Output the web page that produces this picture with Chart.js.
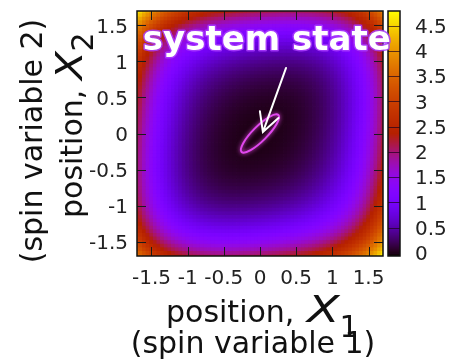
<!DOCTYPE html>
<html>
<head>
<meta charset="utf-8">
<script src="https://cdn.jsdelivr.net/npm/chart.js@4.4.0/dist/chart.umd.min.js"></script>
<style>
  html, body { margin: 0; padding: 0; background: #fff; }
  #wrap { width: 451px; height: 360px; }
</style>
</head>
<body>
<div id="wrap"><canvas id="c" width="451" height="360"></canvas></div>
<script>
// landscape height along x1 (at x2 = 0), x1 = -1.7 .. 1.7 step 0.05
const profileX1 = [2.139, 1.933, 1.743, 1.568, 1.406, 1.258, 1.123, 0.999, 0.886, 0.783,
  0.690, 0.606, 0.530, 0.461, 0.400, 0.345, 0.296, 0.253, 0.215, 0.181, 0.151, 0.126,
  0.103, 0.083, 0.066, 0.052, 0.040, 0.030, 0.021, 0.014, 0.009, 0.005, 0.002, 0.001,
  0.000,
  0.001, 0.002, 0.005, 0.009, 0.014, 0.021, 0.030, 0.040, 0.052, 0.066, 0.083, 0.103,
  0.126, 0.151, 0.181, 0.215, 0.253, 0.296, 0.345, 0.400, 0.461, 0.530, 0.606, 0.690,
  0.783, 0.886, 0.999, 1.123, 1.258, 1.406, 1.568, 1.743, 1.933, 2.139];
// same along x2 (at x1 = 0)
const profileX2 = profileX1;
// x1*x2 coupling (opposite-sign corners are higher)
const coupling = 0.17;
const gridStart = -1.7;
const gridStep = 0.05;

const xTicks = [-1.5, -1, -0.5, 0, 0.5, 1, 1.5];
const yTicks = [-1.5, -1, -0.5, 0, 0.5, 1, 1.5];
const cbTicks = [0, 0.5, 1, 1.5, 2, 2.5, 3, 3.5, 4, 4.5];
const cbMin = -0.06;
const cbMax = 4.79;

// annotation
const stateEllipse = { x: 0, y: 0, a: 0.36, b: 0.1, angle: 45 };
const arrowFrom = [0.36, 0.91];
const arrowTo = [0.04, 0.02];
const labelText = "system state";
const labelAt = [-1.62, 1.16];

// gnuplot default palette (rgbformulae 7,5,15)
function palette(v) {
  let t = (v - cbMin) / (cbMax - cbMin);
  t = Math.min(1, Math.max(0, t));
  const r = Math.sqrt(t), g = t * t * t, b = Math.max(0, Math.sin(2 * Math.PI * t));
  return `rgb(${Math.round(r * 255)},${Math.round(g * 255)},${Math.round(b * 255)})`;
}

const cells = [];
profileX1.forEach((p1, i) => {
  const x1 = +(gridStart + i * gridStep).toFixed(2);
  profileX2.forEach((p2, j) => {
    const x2 = +(gridStart + j * gridStep).toFixed(2);
    cells.push({ x: x1, y: x2, v: p1 + p2 - coupling * x1 * x2 });
  });
});
const cellColors = cells.map(c => palette(c.v));

function cellRadius(chart) {
  const s = chart.scales.x;
  if (!s) return 2.6;
  const px = Math.abs(s.getPixelForValue(gridStep) - s.getPixelForValue(0));
  return (px + 0.8) / Math.SQRT2;
}

const FONT = '"DejaVu Sans", sans-serif';
const tickFont = { family: FONT, size: 20 };

function drawRun(ctx, parts) {
  // parts: [text, font, dx, dy, sx]; drawn left to right along local x
  let x = 0;
  parts.forEach(([t, f, dx, dy, sx = 1]) => {
    ctx.font = f;
    ctx.save();
    ctx.translate(x + dx, dy);
    ctx.scale(sx, 1);
    ctx.fillText(t, 0, 0);
    ctx.restore();
    x += dx + ctx.measureText(t).width * sx;
  });
}

const decor = {
  id: 'decor',
  afterDatasetsDraw(chart) {
    const { ctx, chartArea: a, scales } = chart;
    const { x, y, cb } = scales;
    ctx.save();

    // colour box
    const bl = a.right + 5, bw = 12;
    for (let py = Math.floor(a.top); py < a.bottom; py++) {
      ctx.fillStyle = palette(cb.getValueForPixel(py + 0.5));
      ctx.fillRect(bl, py, bw, 1);
    }
    ctx.strokeStyle = 'rgba(30,0,30,0.7)';
    ctx.lineWidth = 1;
    ctx.beginPath();
    cbTicks.forEach(v => {
      const py = Math.round(cb.getPixelForValue(v)) + 0.5;
      ctx.moveTo(bl, py); ctx.lineTo(bl + bw, py);
    });
    ctx.stroke();
    ctx.strokeStyle = '#111';
    ctx.lineWidth = 1.5;
    ctx.strokeRect(bl, a.top, bw, a.bottom - a.top);

    // inward, mirrored tics
    ctx.strokeStyle = '#1a1a1a';
    ctx.lineWidth = 1;
    ctx.beginPath();
    xTicks.forEach(v => {
      const px = Math.round(x.getPixelForValue(v)) + 0.5;
      ctx.moveTo(px, a.bottom); ctx.lineTo(px, a.bottom - 9);
      ctx.moveTo(px, a.top); ctx.lineTo(px, a.top + 9);
    });
    yTicks.forEach(v => {
      const py = Math.round(y.getPixelForValue(v)) + 0.5;
      ctx.moveTo(a.left, py); ctx.lineTo(a.left + 9, py);
      ctx.moveTo(a.right, py); ctx.lineTo(a.right - 9, py);
    });
    ctx.stroke();
    ctx.strokeStyle = '#111';
    ctx.lineWidth = 1.5;
    ctx.strokeRect(a.left, a.top, a.right - a.left, a.bottom - a.top);

    // state ellipse
    const cx = x.getPixelForValue(stateEllipse.x), cy = y.getPixelForValue(stateEllipse.y);
    const ux = Math.abs(x.getPixelForValue(1) - x.getPixelForValue(0));
    ctx.save();
    ctx.shadowColor = 'rgba(255,80,255,0.9)';
    ctx.shadowBlur = 4;
    ctx.strokeStyle = '#e048ee';
    ctx.lineWidth = 2;
    ctx.beginPath();
    ctx.ellipse(cx, cy, stateEllipse.a * ux, stateEllipse.b * ux, -stateEllipse.angle * Math.PI / 180, 0, 2 * Math.PI);
    ctx.stroke();
    ctx.restore();

    // arrow
    const x0 = x.getPixelForValue(arrowFrom[0]), y0 = y.getPixelForValue(arrowFrom[1]);
    const x1 = x.getPixelForValue(arrowTo[0]), y1 = y.getPixelForValue(arrowTo[1]);
    const ang = Math.atan2(y0 - y1, x0 - x1), hl = 21, ha = 28 * Math.PI / 180;
    ctx.strokeStyle = '#fff';
    ctx.lineWidth = 2;
    ctx.lineCap = 'round';
    ctx.beginPath();
    ctx.moveTo(x0, y0); ctx.lineTo(x1, y1);
    ctx.moveTo(x1 + hl * Math.cos(ang - ha), y1 + hl * Math.sin(ang - ha));
    ctx.lineTo(x1, y1);
    ctx.lineTo(x1 + hl * Math.cos(ang + ha), y1 + hl * Math.sin(ang + ha));
    ctx.stroke();

    // label
    const lx = x.getPixelForValue(labelAt[0]), ly = y.getPixelForValue(labelAt[1]);
    ctx.font = 'bold 34px ' + FONT;
    ctx.textBaseline = 'alphabetic';
    ctx.textAlign = 'left';
    ctx.lineJoin = 'round';
    ctx.strokeStyle = 'rgba(170,60,255,0.85)';
    ctx.lineWidth = 3;
    ctx.strokeText(labelText, lx, ly);
    ctx.fillStyle = '#fff';
    ctx.fillText(labelText, lx, ly);
    ctx.restore();
  },
  afterDraw(chart) {
    const { ctx } = chart;
    ctx.save();
    ctx.fillStyle = '#111';
    ctx.textBaseline = 'alphabetic';
    ctx.textAlign = 'left';
    const reg = '30px ' + FONT, ital = 'italic 38px ' + FONT;

    // x title
    ctx.save();
    ctx.translate(166, 322);
    drawRun(ctx, [['position, ', reg, 0, 0], ['X', ital, 3, 0, 1.25], ['1', reg, 0, 15]]);
    ctx.restore();
    ctx.font = reg;
    ctx.textAlign = 'center';
    ctx.fillText('(spin variable 1)', 253, 353);

    // y title
    ctx.save();
    ctx.translate(82, 218);
    ctx.rotate(-Math.PI / 2);
    ctx.textAlign = 'left';
    drawRun(ctx, [['position, ', reg, 0, 0], ['X', ital, 0, 0, 1.1], ['2', reg, 0, 11]]);
    ctx.restore();
    ctx.save();
    ctx.translate(42, 141);
    ctx.rotate(-Math.PI / 2);
    ctx.font = reg;
    ctx.textAlign = 'center';
    ctx.fillText('(spin variable 2)', 0, 0);
    ctx.restore();
    ctx.restore();
  }
};

const setTicks = vals => scale => { scale.ticks = vals.map(v => ({ value: v })); };
const fixWidth = w => s => { s.width = w; s.paddingTop = 0; s.paddingBottom = 0; };
const fixHeight = h => s => { s.height = h; s.paddingLeft = 0; s.paddingRight = 0; };

new Chart(document.getElementById('c'), {
  type: 'scatter',
  data: {
    datasets: [{
      data: cells,
      pointStyle: 'rect',
      pointRadius: ctx => cellRadius(ctx.chart),
      pointBorderWidth: 0,
      pointBackgroundColor: cellColors,
      clip: 0
    }]
  },
  options: {
    responsive: false,
    animation: false,
    events: [],
    layout: { padding: { top: 11, left: 0, right: 0, bottom: 0 } },
    plugins: { legend: { display: false }, tooltip: { enabled: false } },
    scales: {
      x: {
        type: 'linear', position: 'bottom', min: -1.7, max: 1.7,
        afterBuildTicks: setTicks(xTicks),
        afterFit: fixHeight(104),
        grid: { display: false, drawTicks: false },
        border: { display: false },
        ticks: { autoSkip: false, maxRotation: 0, padding: 11, color: '#222', font: tickFont,
          callback: v => String(v) }
      },
      y: {
        type: 'linear', position: 'left', min: -1.7, max: 1.7,
        afterBuildTicks: setTicks(yTicks),
        afterFit: fixWidth(137),
        grid: { display: false, drawTicks: false },
        border: { display: false },
        ticks: { autoSkip: false, padding: 9, labelOffset: 2, color: '#222', font: tickFont,
          callback: v => String(v) }
      },
      cb: {
        type: 'linear', position: 'right', axis: 'y', min: cbMin, max: cbMax,
        afterBuildTicks: setTicks(cbTicks),
        afterFit: fixWidth(68),
        grid: { display: false, drawTicks: false },
        border: { display: false },
        ticks: { autoSkip: false, padding: 32, labelOffset: 2, color: '#222', font: tickFont,
          callback: v => String(v) }
      }
    }
  },
  plugins: [decor]
});
</script>
</body>
</html>
